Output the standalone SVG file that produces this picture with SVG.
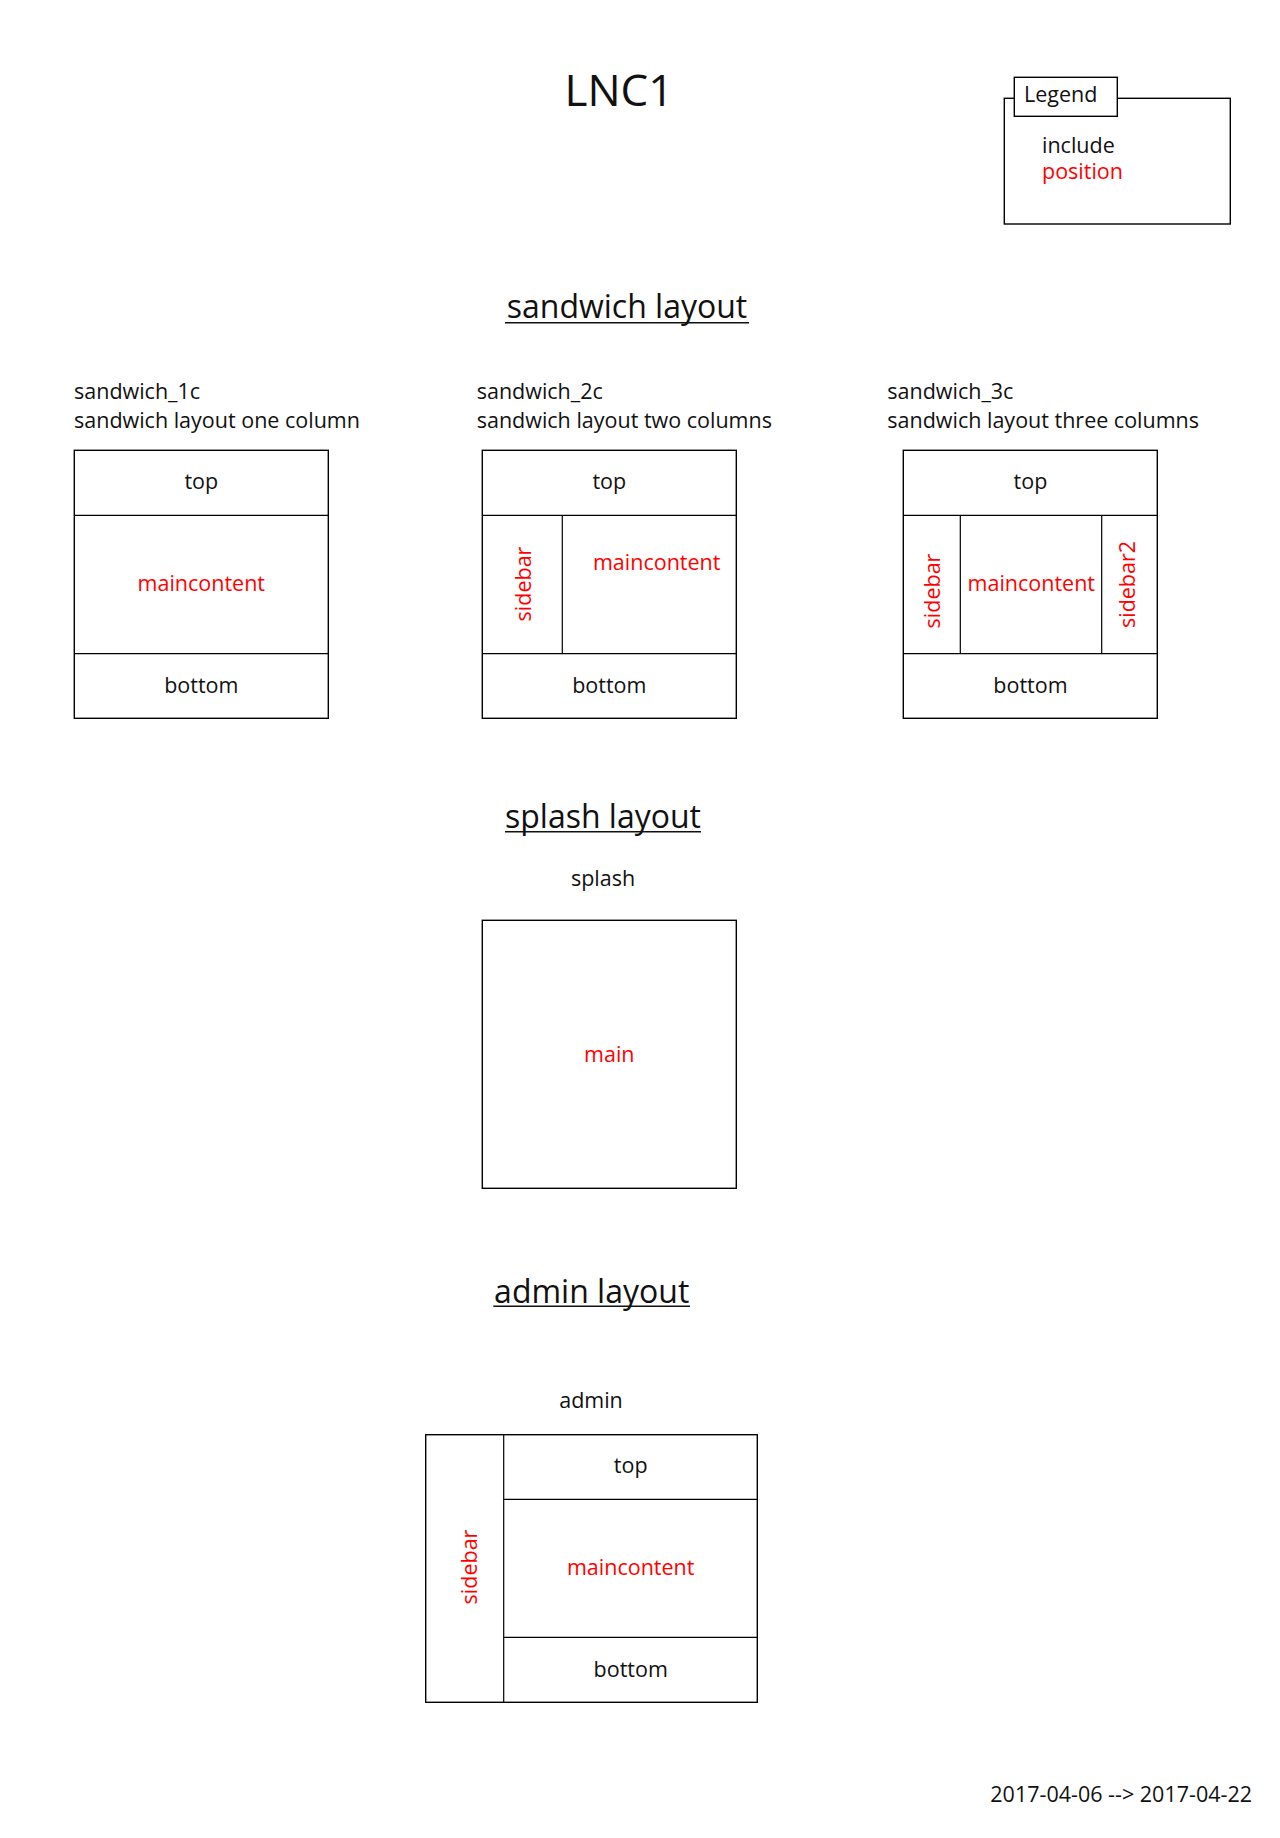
<svg xmlns="http://www.w3.org/2000/svg" width="1280" height="1838" viewBox="0 0 1280 1838">
<style>
  text { font-family: "Open Sans", "Liberation Sans", sans-serif; font-size: 21.5px; fill: #111; }
  .red { fill: #ff0000; }
  .mid { text-anchor: middle; }
  .title { font-size: 44px; }
  .head { font-size: 32px; }
  .box { fill: none; stroke: #000; stroke-width: 1.4; }
  .line { stroke: #000; stroke-width: 1.2; }
  .ul { stroke: #111; stroke-width: 1.6; }
</style>
<rect width="1280" height="1838" fill="#ffffff"/>

<g id="title">
  <text class="title mid" x="619" y="106">LNC1</text>
</g>

<g id="legend">
  <rect class="box" x="1004.3" y="98.3" width="226" height="125.7"/>
  <rect x="1014.3" y="77.3" width="103" height="39" fill="#ffffff" stroke="#000" stroke-width="1.4"/>
  <text x="1024" y="102.3">Legend</text>
  <text x="1042" y="153.3">include</text>
  <text class="red" x="1042" y="179.3">position</text>
</g>

<g id="heading-sandwich">
  <text class="head mid" x="627" y="317.7">sandwich layout</text>
  <line class="ul" x1="505" y1="322.7" x2="749" y2="322.7"/>
</g>

<g id="sandwich_1c">
  <text x="74" y="399.3">sandwich_1c</text>
  <text x="74" y="428.3">sandwich layout one column</text>
  <rect class="box" x="74.3" y="450.3" width="254" height="268"/>
  <line class="line" x1="74.3" y1="515.3" x2="328.3" y2="515.3"/>
  <line class="line" x1="74.3" y1="653.7" x2="328.3" y2="653.7"/>
  <text class="mid" x="201.3" y="489.3">top</text>
  <text class="mid red" x="201.3" y="591">maincontent</text>
  <text class="mid" x="201.3" y="692.7">bottom</text>
</g>

<g id="sandwich_2c">
  <text x="476.7" y="399.3">sandwich_2c</text>
  <text x="476.7" y="428.3">sandwich layout two columns</text>
  <rect class="box" x="482.3" y="450.3" width="254" height="268"/>
  <line class="line" x1="482.3" y1="515.3" x2="736.3" y2="515.3"/>
  <line class="line" x1="482.3" y1="653.7" x2="736.3" y2="653.7"/>
  <line class="line" x1="562.3" y1="515.3" x2="562.3" y2="653.7"/>
  <text class="mid" x="609.3" y="489.3">top</text>
  <text class="mid red" x="531" y="584" transform="rotate(-90 531 584)">sidebar</text>
  <text class="mid red" x="656.7" y="570">maincontent</text>
  <text class="mid" x="609.3" y="692.7">bottom</text>
</g>

<g id="sandwich_3c">
  <text x="887.3" y="399.3">sandwich_3c</text>
  <text x="887.3" y="428.3">sandwich layout three columns</text>
  <rect class="box" x="903.3" y="450.3" width="254" height="268"/>
  <line class="line" x1="903.3" y1="515.3" x2="1157.3" y2="515.3"/>
  <line class="line" x1="903.3" y1="653.7" x2="1157.3" y2="653.7"/>
  <line class="line" x1="960.3" y1="515.3" x2="960.3" y2="653.7"/>
  <line class="line" x1="1101.7" y1="515.3" x2="1101.7" y2="653.7"/>
  <text class="mid" x="1030.5" y="489.3">top</text>
  <text class="mid red" x="940" y="591" transform="rotate(-90 940 591)">sidebar</text>
  <text class="mid red" x="1031.3" y="591">maincontent</text>
  <text class="mid red" x="1135" y="584.5" transform="rotate(-90 1135 584.5)">sidebar2</text>
  <text class="mid" x="1030.5" y="692.7">bottom</text>
</g>

<g id="heading-splash">
  <text class="head mid" x="603" y="827.7">splash layout</text>
  <line class="ul" x1="505" y1="831.7" x2="701" y2="831.7"/>
</g>

<g id="splash">
  <text class="mid" x="603" y="885.7">splash</text>
  <rect class="box" x="482.3" y="920.3" width="254" height="268"/>
  <text class="mid red" x="609.3" y="1061.7">main</text>
</g>

<g id="heading-admin">
  <text class="head mid" x="591.7" y="1302.7">admin layout</text>
  <line class="ul" x1="493.3" y1="1306.3" x2="690" y2="1306.3"/>
</g>

<g id="admin">
  <text class="mid" x="591" y="1408.3">admin</text>
  <rect class="box" x="425.7" y="1434.7" width="331.6" height="267.6"/>
  <line class="line" x1="503.7" y1="1434.7" x2="503.7" y2="1702.3"/>
  <line class="line" x1="503.7" y1="1499.3" x2="757.3" y2="1499.3"/>
  <line class="line" x1="503.7" y1="1637.3" x2="757.3" y2="1637.3"/>
  <text class="mid red" x="476.7" y="1567" transform="rotate(-90 476.7 1567)">sidebar</text>
  <text class="mid" x="630.7" y="1473.3">top</text>
  <text class="mid red" x="630.7" y="1575">maincontent</text>
  <text class="mid" x="630.7" y="1676.7">bottom</text>
</g>

<g id="connectors"></g>

<g id="date">
  <text x="1252" y="1802.3" text-anchor="end">2017-04-06 --&gt; 2017-04-22</text>
</g>
</svg>
